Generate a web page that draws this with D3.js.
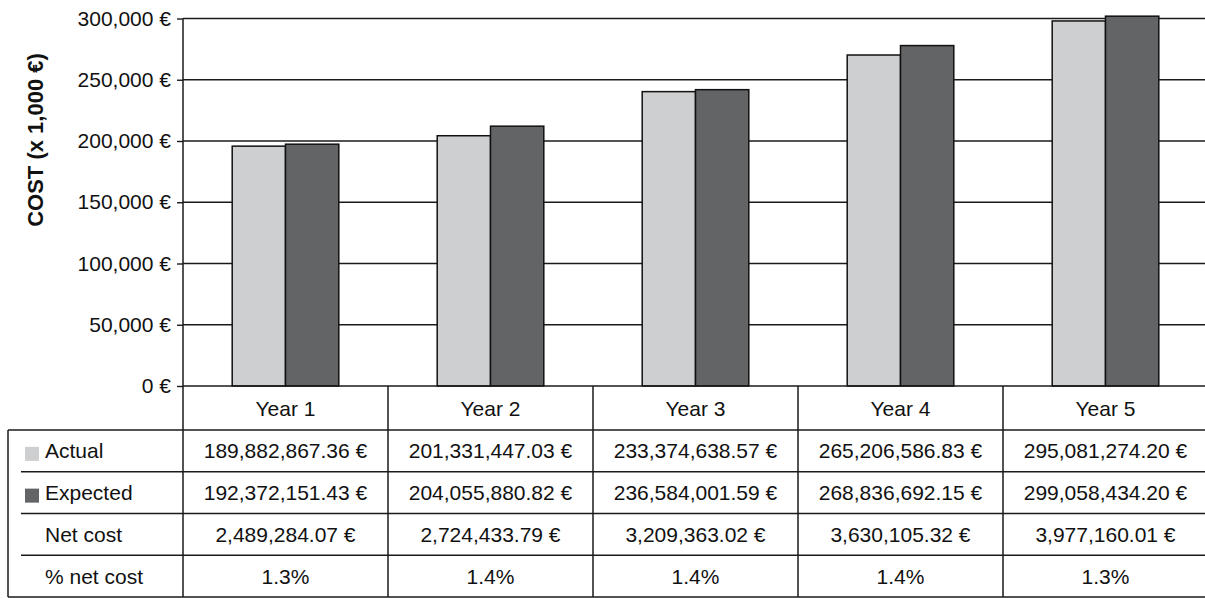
<!DOCTYPE html>
<html>
<head>
<meta charset="utf-8">
<script src="https://cdn.jsdelivr.net/npm/d3@7"></script>
<style>
    body { margin: 0; background: #fff; }
    text { font-family: "Liberation Sans", Arial, sans-serif; fill: #111; }
</style>
</head>
<body>
<div id="my_chart"></div>
<script>
// data
const years = ["Year 1", "Year 2", "Year 3", "Year 4", "Year 5"];
const series = ["Actual", "Expected"];
const actualBars = [195800, 204300, 240300, 270200, 298000];
const expectedBars = [197400, 212100, 241900, 277900, 301900];
const yTicks = [0, 50000, 100000, 150000, 200000, 250000, 300000];

// table rows
const rowLabels = ["Actual", "Expected", "Net cost", "% net cost"];
const actualCost = [189882867.36, 201331447.03, 233374638.57, 265206586.83, 295081274.20];
const expectedCost = [192372151.43, 204055880.82, 236584001.59, 268836692.15, 299058434.20];
const netCost = [2489284.07, 2724433.79, 3209363.02, 3630105.32, 3977160.01];
const pctNetCost = [1.3, 1.4, 1.4, 1.4, 1.3];

const colors = {Actual: "#cecfd1", Expected: "#636466"};
const lineColor = "#1a1a1a";

// layout
const W = 1205, H = 598;
const plot = {left: 183, right: 1208, top: 18.5, bottom: 386};
const table = {left: 8, inner: 21, top: 430, bottom: 597};

const svg = d3.select("#my_chart")
    .append("svg")
    .attr("width", W)
    .attr("height", H);

// scales
const x = d3.scaleBand()
    .domain(years)
    .range([plot.left, plot.right])
    .paddingInner(0.48)
    .paddingOuter(0.24);

const xSub = d3.scaleBand()
    .domain(series)
    .range([0, x.bandwidth()]);

const col = d3.scaleBand()
    .domain(years)
    .range([plot.left, plot.right]);

const y = d3.scaleLinear()
    .domain([0, 300000])
    .range([plot.bottom, plot.top]);

// grid lines
svg.append("g")
    .selectAll("line")
    .data(yTicks.slice(1))
    .join("line")
    .attr("x1", plot.left)
    .attr("x2", W)
    .attr("y1", d => y(d))
    .attr("y2", d => y(d))
    .attr("stroke", lineColor)
    .attr("stroke-width", 1.4);

// bars
const barData = years.map((yr, i) => ({year: yr, values: [
    {key: "Actual", value: actualBars[i]},
    {key: "Expected", value: expectedBars[i]}
]}));

svg.append("g")
    .selectAll("g")
    .data(barData)
    .join("g")
    .attr("transform", d => `translate(${x(d.year)},0)`)
    .selectAll("rect")
    .data(d => d.values)
    .join("rect")
    .attr("x", d => xSub(d.key))
    .attr("y", d => y(d.value))
    .attr("width", xSub.bandwidth())
    .attr("height", d => y(0) - y(d.value))
    .attr("fill", d => colors[d.key])
    .attr("stroke", "#111")
    .attr("stroke-width", 1.5);

// y axis
const yAxis = svg.append("g")
    .attr("transform", `translate(${plot.left},0)`)
    .call(d3.axisLeft(y)
        .tickValues(yTicks)
        .tickSize(6)
        .tickPadding(6)
        .tickFormat(d => d3.format(",")(d) + " €"));
yAxis.select(".domain").remove();
yAxis.selectAll(".tick line").attr("stroke", lineColor).attr("stroke-width", 1.4);
yAxis.selectAll("text")
    .style("font-size", "21px")
    .attr("fill", "#111");

// y axis title
svg.append("text")
    .attr("transform", "translate(43,140) rotate(-90)")
    .style("text-anchor", "middle")
    .style("font-size", "22px")
    .style("font-weight", "bold")
    .text("COST (x 1,000 €)");

// table lines
const grid = svg.append("g")
    .attr("stroke", lineColor)
    .attr("stroke-width", 1.5);

const rowH = (table.bottom - table.top) / rowLabels.length;
const rowY = rowLabels.map((r, i) => table.top + i * rowH);

// axis line down to the bottom of the table
grid.append("line")
    .attr("x1", plot.left).attr("x2", plot.left)
    .attr("y1", plot.top).attr("y2", table.bottom);
// baseline / header top
grid.append("line")
    .attr("x1", plot.left).attr("x2", W)
    .attr("y1", plot.bottom).attr("y2", plot.bottom);
// column dividers
grid.selectAll(".coldiv")
    .data(years.slice(1))
    .join("line")
    .attr("class", "coldiv")
    .attr("x1", d => col(d)).attr("x2", d => col(d))
    .attr("y1", plot.bottom).attr("y2", table.bottom);
// outer box of body
grid.append("line")
    .attr("x1", table.left).attr("x2", W)
    .attr("y1", table.top).attr("y2", table.top);
grid.append("line")
    .attr("x1", table.left).attr("x2", W)
    .attr("y1", table.bottom).attr("y2", table.bottom);
grid.append("line")
    .attr("x1", table.left).attr("x2", table.left)
    .attr("y1", table.top).attr("y2", table.bottom);
// row separators
grid.selectAll(".rowdiv")
    .data(rowY.slice(1))
    .join("line")
    .attr("class", "rowdiv")
    .attr("x1", table.inner).attr("x2", W)
    .attr("y1", d => d).attr("y2", d => d);

// header labels
svg.append("g")
    .selectAll("text")
    .data(years)
    .join("text")
    .attr("x", d => col(d) + col.bandwidth() / 2)
    .attr("y", (plot.bottom + table.top) / 2)
    .attr("dy", "0.36em")
    .style("text-anchor", "middle")
    .style("font-size", "21px")
    .text(d => d);

// row labels + legend keys
const labels = svg.append("g");
labels.selectAll("text")
    .data(rowLabels)
    .join("text")
    .attr("x", 45)
    .attr("y", (d, i) => rowY[i] + rowH / 2)
    .attr("dy", "0.36em")
    .style("font-size", "21px")
    .text(d => d);

labels.selectAll("rect")
    .data(series)
    .join("rect")
    .attr("x", 25)
    .attr("y", (d, i) => rowY[i] + rowH / 2 - 4)
    .attr("width", 14)
    .attr("height", 14)
    .attr("fill", d => colors[d]);

// cell values
const euro = v => d3.format(",.2f")(v) + " €";
const cells = [
    actualCost.map(euro),
    expectedCost.map(euro),
    netCost.map(euro),
    pctNetCost.map(v => d3.format(".1f")(v) + "%")
];

cells.forEach((row, r) => {
    svg.append("g")
        .selectAll("text")
        .data(row)
        .join("text")
        .attr("x", (d, i) => col(years[i]) + col.bandwidth() / 2)
        .attr("y", rowY[r] + rowH / 2)
        .attr("dy", "0.36em")
        .style("text-anchor", "middle")
        .style("font-size", "21px")
        .text(d => d);
});
</script>
</body>
</html>
